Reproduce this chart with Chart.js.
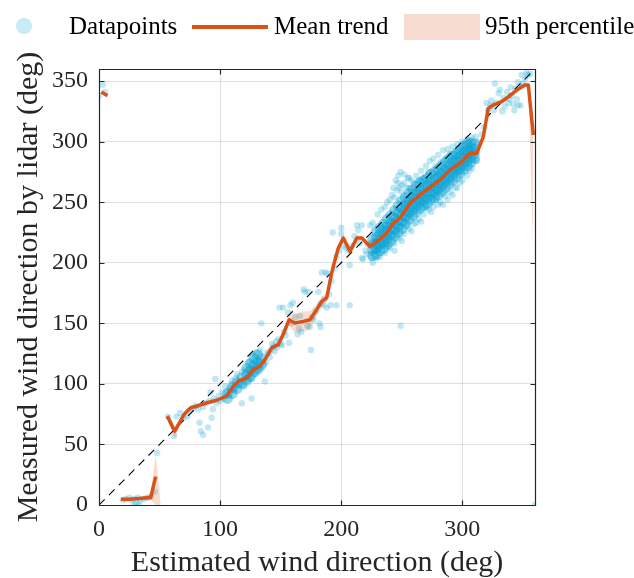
<!DOCTYPE html>
<html><head><meta charset="utf-8">
<script src="https://cdn.jsdelivr.net/npm/chart.js@4.4.1/dist/chart.umd.min.js"></script>
<style>
html,body{margin:0;padding:0;background:#fff;}
#wrap{position:relative;width:634px;height:578px;overflow:hidden;}
#c{position:absolute;left:0;top:0;}
.lg{position:absolute;font-family:'Liberation Serif',serif;font-size:25px;color:#000;line-height:25px;white-space:nowrap;}
.mk{position:absolute;}
</style></head><body>
<div id="wrap">
<canvas id="c" width="634" height="578"></canvas>
<div id="legend"></div>
</div>
<script>
// ---------------- data ----------------
const legendLabels = ['Datapoints', 'Mean trend', '95th percentile'];
const xTickValues = [0, 100, 200, 300];
const yTickValues = [0, 50, 100, 150, 200, 250, 300, 350];
const diagonalX = [0, 360];
const diagonalY = [0, 360];

const meanX = [2, 7, 12, 18, 25, 33, 42.7, 46.8, 51, 54, 56.4, 62.5, 66.5, 70.2, 75.7, 82.6, 89.4, 97.2, 105.4, 110.9, 115, 122, 127.4, 132.9, 137, 142.6, 148, 152, 157, 161.8, 168.7, 174.2, 179.7, 183.9, 188, 192.1, 194.9, 197.6, 201.7, 207.3, 212.8, 217, 223.8, 232, 237.5, 243, 248.5, 256.8, 265, 273, 281.6, 289.8, 298, 306.3, 311.9, 317.3, 321.4, 325.6, 332.5, 338, 344.9, 351.7, 354.5, 358.6];
const meanY = [341, 338, null, 4.7, 4.8, 5.3, 6.1, 23.4, null, null, 73.4, 61, 68, 74.8, 80.3, 82.2, 84.4, 86.5, 90, 98, 102.2, 105, 111.8, 114.6, 120, 129.7, 132.4, 140.7, 153, 150.3, 151.6, 153, 161.3, 168.1, 171, 191.5, 202.5, 212.1, 220.4, 209.4, 220.4, 220.4, 213.5, 219.5, 224.5, 232.8, 236.9, 249.2, 256, 262, 268.4, 276.7, 282.2, 290.4, 290.4, 304, 327.5, 330.2, 333, 337, 342.6, 346.7, 346.7, 305.5];
const bandLow = [340, 337, null, 3.5, 3.8, 4.3, 4, 0, 0, null, 71, 55, 65, 73, 79, 81, 83, 85, 88.5, 96.5, 100.5, 103.5, 110, 113, 118, 127.5, 130.5, 137, 148, 142, 143, 145, 156, 164, 167, 186, 199, 209, 218, 207, 218, 218.5, 212, 218, 223, 231.5, 235.5, 248, 255, 261, 267.5, 275.5, 281, 289, 289, 302, 325, 328, 331, 335, 341, 345, 343, 205];
const bandHigh = [342, 339, null, 6, 6, 6.5, 9, 42, 1, null, 75, 64, 70, 77, 82, 83.5, 86, 88, 91.5, 99.5, 104, 106.5, 113.5, 116, 122, 132, 134.5, 144, 157, 158, 160, 160, 166, 172, 175, 196, 206, 215, 223, 212, 223, 222, 215, 221, 226, 234, 238.5, 250.5, 257, 263, 269.5, 278, 283.5, 292, 292, 306, 330, 332, 335, 339, 344.5, 348.5, 349, 312];

// individual (lighter) data points [estimated direction, measured direction]
const sparsePoints = [[3,347],[0,338],[5,341],
[20,4],[22,5],[25,6],[27,4],[29,5],[32,6],[34,4],[37,5],[40,6],[43,7],[29,0],[31,1],[33,0],[46,11],[48,43],
[57,73],[62,57],[64,73],[67,76],[70,72],[73,73],[75,78],[78,80],[80,82],[82,79],[83,68],[84,61],[86,58],[86,81],[88,84],[90,64],[91,86],[93,72],[94,79],[92,93],[95,88],[96,104],[97,84],[99,90],[100,86],[102,93],[103,88],[104,98],[106,94],[108,96],[109,100],[110,103],[112,95],[113,105],[114,108],[116,99],[118,84],[118,110],[120,98],[121,112],[123,103],[124,118],[126,88],[126,104],[127,124],[129,108],[130,126],[132,110],[133,128],[134,112],[134,150],[136,116],[137,102],[138,118],[139,126],[140,125],[141,122],[142,128],[143,133],[144,131],[145,127],[146,135],[147,130],[148,137],[150,133],[149,163],[151,132],[152,163],[153,143],[154,140],[156,159],[157,134],[158,165],[160,167],[159,150],[162,155],[164,141],[165,146],[166,156],[167,143],[169,178],[170,176],[172,148],[173,176],[174,147],[175,128],[176,155],[177,153],[179,160],[181,176],[182,150],[183,147],[183,166],[184,192],[185,165],[186,170],[187,192],[188,163],[189,191],[190,174],[191,165],[192,185],[193,225],[194,195],[196,165],[196,205],[198,210],[200,229],[200,224],[202,214],[204,212],[206,210],[207,165],[207,198],[209,214],[211,222],[213,231],[214,227],[215,216],[217,231],[217,204],[218,203],[220,210],[221,207],[222,215],[224,231],[225,208],[225,204],[226,233],[228,218],
[249,148],[360,0],
[230,240],[233,244],[236,246],[238,250],[240,252],[242,256],[243,262],[244,254],[245,268],[246,260],[247,272],[247,266],[248,262],[249,275],[250,264],[250,258],[252,273],[252,266],[254,262],[255,270],[256,262],[256,270],[258,268],[258,258],[260,266],[262,272],[264,268],[266,276],[268,270],[270,280],[272,275],[273,284],[276,286],[278,280],[280,289],[282,283],[284,293],[286,286],[288,294],[290,290],[292,296],[294,292],[296,298],[298,295],[300,300],[302,298],[304,302],[306,301],[308,303],[311,304],
[226,200],[229,204],[230,210],[232,205],[236,208],[238,215],[240,212],[244,210],[244,216],[248,220],[250,218],[252,224],[254,232],[256,228],[258,226],[260,232],[262,233],[264,236],[266,234],[268,240],[270,246],[272,244],[274,242],[276,246],[278,252],[280,248],[282,250],[284,248],[286,255],[288,252],[290,258],[292,256],[294,262],[296,262],[298,266],[300,268],[304,272],[306,276],[308,278],[312,284],
[313,300],[316,306],[318,312],[320,332],[321,326],[323,330],[324,334],[326,326],[327,348],[328,332],[330,340],[331,343],[333,325],[334,336],[335,329],[337,341],[338,332],[339,335],[340,345],[341,338],[342,331],[343,326],[344,344],[345,335],[346,349],[346,330],[348,330],[348,346],[349,355],[350,348],[352,352],[353,357],[354,355],[356,356]];

// densely overlapping data points, by column: [estimated direction, [measured directions]]
const denseColumns = [
[106,[88,92]],[110,[92,97]],[114,[96,101]],[118,[100,105]],[122,[103,108,113]],[125,[106,111,117]],[128,[110,115,121]],[131,[113,118,124]],[134,[116,121]],
[226,[206,211,215,219]],[229,[207,212,216,221,226]],[232,[210,215,219,224,229]],[235,[212,217,222,227,232]],[238,[215,220,225,230,236]],[241,[218,223,228,233,239]],[244,[222,227,232,237,243]],[247,[225,230,235,241,247]],[250,[228,234,239,245,251]],[253,[232,238,243,248,254]],[256,[236,241,246,251,257]],[259,[239,244,249,254,260]],[262,[242,247,252,257,263]],[265,[245,250,255,260,266]],[268,[247,252,257,262,268]],[271,[249,254,259,264,270]],[274,[252,257,262,267,273]],[277,[254,259,264,269,275]],[280,[256,261,266,271,277]],[283,[259,264,269,274,280]],[286,[262,267,272,277,283]],[289,[265,270,275,280,286]],[292,[268,273,278,283,288]],[295,[271,276,280,285,290]],[298,[274,278,283,288,293]],[301,[277,281,286,291,296]],[304,[280,284,289,293,298]],[307,[283,287,291,295,299]],[310,[286,290,294,298]]
];

// ---------------- styling ----------------
const FONT = "'Liberation Serif', serif";
const ORANGE = '#D95319';
const BAND = 'rgba(217,83,25,0.2)';
const DOT = 'rgba(0,160,210,0.25)';
const DOT_DENSE = 'rgba(0,160,210,0.42)';

const toXY = (xs, ys) => xs.map((v, i) => ({x: v, y: ys[i]}));
const denseData = [];
denseColumns.forEach(([x, ys]) => ys.forEach(y => denseData.push({x, y})));

// legend (HTML)
const lg = document.getElementById('legend');
function addEl(cls, css, text) {
  const d = document.createElement('div');
  d.className = cls; Object.assign(d.style, css);
  if (text) d.textContent = text;
  lg.appendChild(d); return d;
}
addEl('mk', {left:'16px', top:'18px', width:'16px', height:'16px', borderRadius:'50%', background:'rgb(200,235,246)'});
addEl('lg', {left:'69px', top:'13px'}, legendLabels[0]);
addEl('mk', {left:'192px', top:'25px', width:'76px', height:'4px', background:ORANGE});
addEl('lg', {left:'274px', top:'13px'}, legendLabels[1]);
addEl('mk', {left:'404px', top:'14px', width:'76px', height:'26px', background:BAND});
addEl('lg', {left:'485px', top:'13px'}, legendLabels[2]);

const frame = {
  id: 'frame',
  afterDatasetsDraw(chart) {
    const {ctx, chartArea: a, scales: {x, y}} = chart;
    ctx.save();
    ctx.strokeStyle = '#262626'; ctx.lineWidth = 1.2;
    const L = Math.round(a.left) + 0.5, R = Math.round(a.right) + 0.5, T = Math.round(a.top) + 0.5, B = Math.round(a.bottom) + 0.5;
    ctx.beginPath();
    ctx.rect(L, T, R - L, B - T);
    x.ticks.forEach(t => { const p = Math.round(x.getPixelForValue(t.value)) + 0.5; ctx.moveTo(p, B); ctx.lineTo(p, B - 5); ctx.moveTo(p, T); ctx.lineTo(p, T + 5); });
    y.ticks.forEach(t => { const p = Math.round(y.getPixelForValue(t.value)) + 0.5; ctx.moveTo(L, p); ctx.lineTo(L + 5, p); ctx.moveTo(R, p); ctx.lineTo(R - 5, p); });
    ctx.stroke();
    ctx.restore();
  }
};

new Chart(document.getElementById('c'), {
  type: 'scatter',
  data: {
    datasets: [
      {label: legendLabels[1], type: 'line', data: toXY(meanX, meanY), borderColor: ORANGE, borderWidth: 3.5, pointRadius: 0, spanGaps: false, fill: false, order: 0, tension: 0, borderJoinStyle: 'round'},
      {label: 'diagonal', type: 'line', data: toXY(diagonalX, diagonalY), borderColor: '#000', borderWidth: 1.1, borderDash: [8, 6], pointRadius: 0, fill: false, order: 1},
      {label: 'bandLow', type: 'line', data: toXY(meanX, bandLow), borderColor: 'rgba(0,0,0,0)', borderWidth: 0, pointRadius: 0, spanGaps: false, fill: false, order: 3},
      {label: legendLabels[2], type: 'line', data: toXY(meanX, bandHigh), borderColor: 'rgba(0,0,0,0)', borderWidth: 0, pointRadius: 0, spanGaps: false, fill: {target: '-1'}, backgroundColor: BAND, order: 2},
      {label: 'dense', data: denseData, backgroundColor: DOT_DENSE, borderWidth: 0, pointRadius: 5.5, order: 4},
      {label: legendLabels[0], data: sparsePoints.map(p => ({x: p[0], y: p[1]})), backgroundColor: DOT, borderWidth: 0, pointRadius: 3.2, order: 5}
    ]
  },
  options: {
    responsive: false,
    animation: false,
    devicePixelRatio: 1,
    layout: {padding: {top: 69, right: 99, left: 0, bottom: 0}},
    plugins: {legend: {display: false}, tooltip: {enabled: false}},
    scales: {
      x: {
        type: 'linear', min: 0, max: 360,
        afterBuildTicks: s => { s.ticks = xTickValues.map(v => ({value: v})); },
        afterFit: s => { s.height = 73; },
        grid: {color: 'rgba(0,0,0,0.12)', drawTicks: false, lineWidth: 1},
        border: {display: false},
        ticks: {padding: 10, color: '#262626', font: {family: FONT, size: 24}, maxRotation: 0},
        title: {display: true, text: 'Estimated wind direction (deg)', color: '#262626', font: {family: FONT, size: 30, lineHeight: 1}, padding: {top: 0, bottom: 0}}
      },
      y: {
        type: 'linear', min: 0, max: 360,
        afterBuildTicks: s => { s.ticks = yTickValues.map(v => ({value: v})); },
        afterFit: s => { s.width = 99; },
        grid: {color: 'rgba(0,0,0,0.12)', drawTicks: false, lineWidth: 1},
        border: {display: false},
        ticks: {padding: 11, color: '#262626', font: {family: FONT, size: 24}},
        title: {display: true, text: 'Measured wind direction by lidar (deg)', color: '#262626', font: {family: FONT, size: 30, lineHeight: 1}, padding: {top: 14, bottom: 0}}
      }
    }
  },
  plugins: [frame]
});
</script>
</body></html>
